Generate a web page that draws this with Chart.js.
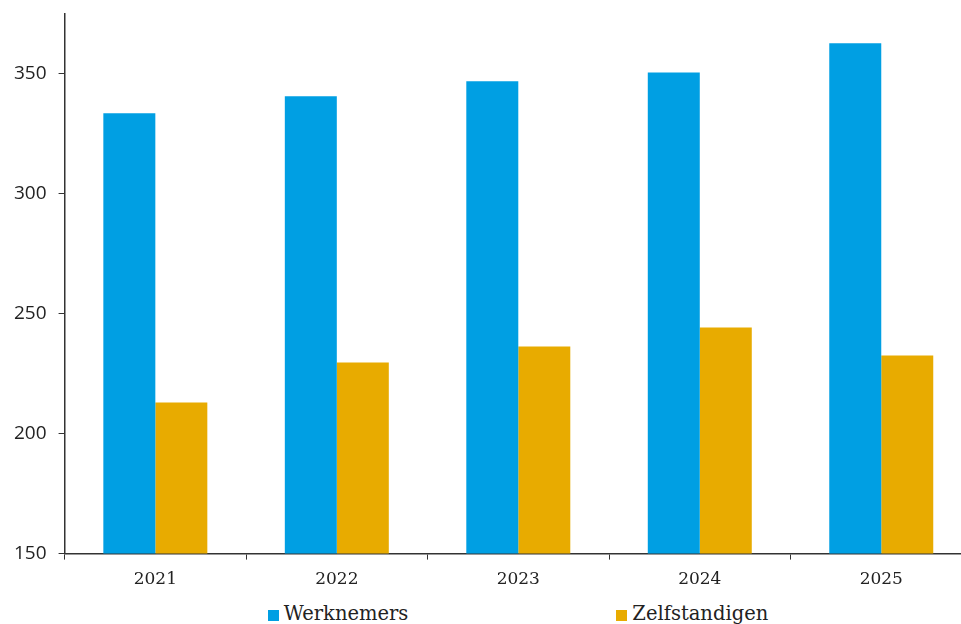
<!DOCTYPE html>
<html>
<head>
<meta charset="utf-8">
<script src="https://cdn.jsdelivr.net/npm/chart.js@4"></script>
<style>
  html, body { margin: 0; padding: 0; background: #fff; overflow: hidden; }
  #wrap { position: relative; width: 972px; height: 624px; }
  #chart { position: absolute; left: 0; top: -10px; }
  #legend { position: absolute; left: 64px; width: 908px; top: 602px; display: flex; justify-content: center; gap: 208px;
            font-family: "DejaVu Serif", serif; font-size: 19.5px; color: #222; }
  #legend span.item { display: flex; align-items: center; white-space: nowrap; }
  #legend span.box { display: inline-block; width: 11px; height: 11px; margin-right: 5px; margin-top: 3px; }
</style>
</head>
<body>
<div id="wrap">
  <canvas id="chart" width="972" height="610"></canvas>
  <div id="legend"></div>
</div>
<script>
var years = ['2021', '2022', '2023', '2024', '2025'];
var werknemers = [333.4, 340.5, 346.7, 350.4, 362.6];
var zelfstandigen = [212.9, 229.6, 236.3, 244.2, 232.5];
var seriesNames = ['Werknemers', 'Zelfstandigen'];
var seriesColors = ['#009fe3', '#e8ab00'];

var axisColor = '#333333';

var ctx = document.getElementById('chart').getContext('2d');
var myChart = new Chart(ctx, {
  type: 'bar',
  data: {
    labels: years,
    datasets: [{
      label: seriesNames[0],
      data: werknemers,
      backgroundColor: seriesColors[0],
      borderWidth: 0
    },{
      label: seriesNames[1],
      data: zelfstandigen,
      backgroundColor: seriesColors[1],
      borderWidth: 0
    }]
  },
  options: {
    responsive: false,
    devicePixelRatio: 1,
    animation: false,
    categoryPercentage: 0.573,
    barPercentage: 1,
    layout: {
      padding: { left: 2, right: 0, top: 7, bottom: 0 }
    },
    scales: {
      x: {
        offset: true,
        border: { display: true, color: axisColor, width: 1.5 },
        grid: { display: true, drawOnChartArea: false, drawTicks: true, tickLength: 6, color: axisColor, offset: true },
        ticks: {
          padding: 10,
          color: '#222',
          font: { family: 'DejaVu Serif', size: 17 }
        }
      },
      y: {
        min: 150,
        max: 375,
        border: { display: true, color: axisColor, width: 1.5 },
        grid: { display: true, drawOnChartArea: false, drawTicks: true, tickLength: 6, color: axisColor },
        afterBuildTicks: function(scale){
          scale.ticks = scale.ticks.filter(function(t){ return t.value % 50 === 0; });
        },
        ticks: {
          stepSize: 50,
          padding: 12,
          color: '#222',
          font: { family: 'Open Sans', size: 19 }
        }
      }
    },
    plugins: {
      legend: { display: false },
      tooltip: { enabled: false }
    }
  }
});

// legend under the chart
var legendDiv = document.getElementById('legend');
myChart.data.datasets.forEach(function(ds){
  var item = document.createElement('span');
  item.className = 'item';
  var box = document.createElement('span');
  box.className = 'box';
  box.style.background = ds.backgroundColor;
  item.appendChild(box);
  item.appendChild(document.createTextNode(ds.label));
  legendDiv.appendChild(item);
});
</script>
</body>
</html>
